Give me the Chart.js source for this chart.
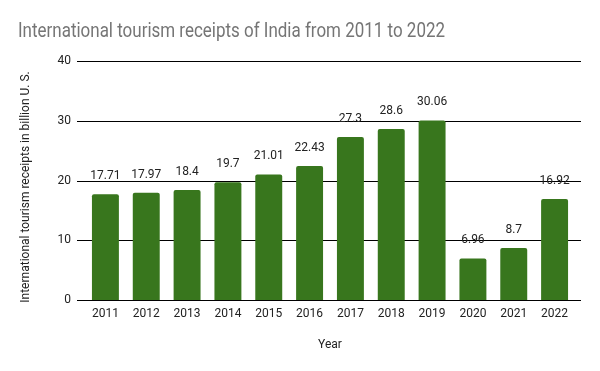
<!DOCTYPE html>
<html>
<head>
<meta charset="utf-8">
<script src="https://cdn.jsdelivr.net/npm/chart.js@4.4.0/dist/chart.umd.min.js"></script>
<style>
  html, body { margin: 0; padding: 0; background: #fff; }
  #wrap { width: 600px; height: 371px; position: relative; }
</style>
</head>
<body>
<div id="wrap"><canvas id="c" width="600" height="371"></canvas></div>
<script>
const chartTitle = "International tourism receipts of India from 2011 to 2022";
const years = ["2011","2012","2013","2014","2015","2016","2017","2018","2019","2020","2021","2022"];
const receipts = [17.71, 17.97, 18.4, 19.7, 21.01, 22.43, 27.3, 28.6, 30.06, 6.96, 8.7, 16.92];
const yTicks = [0, 10, 20, 30, 40];
const xTitle = "Year";
const yTitle = "International tourism receipts in billion U. S.";

const textPlugin = {
  id: 'customText',
  afterDraw(chart) {
    const ctx = chart.ctx;
    ctx.save();
    ctx.font = '20px Roboto';
    ctx.fillStyle = '#757575';
    ctx.textAlign = 'left';
    ctx.textBaseline = 'alphabetic';
    ctx.fillText(chartTitle, 18, 37, 427);
    ctx.restore();

    ctx.save();
    ctx.translate(26, 187);
    ctx.rotate(-Math.PI / 2);
    ctx.font = '12px Roboto';
    ctx.fillStyle = '#222222';
    ctx.textAlign = 'center';
    ctx.textBaseline = 'middle';
    ctx.fillText(yTitle, 0, 0);
    ctx.restore();
  }
};

const gridPlugin = {
  id: 'extendedGrid',
  beforeDatasetsDraw(chart) {
    const ctx = chart.ctx;
    const y = chart.scales.y;
    const area = chart.chartArea;
    ctx.save();
    ctx.strokeStyle = '#000000';
    ctx.lineWidth = 1;
    yTicks.forEach(v => {
      const py = Math.round(y.getPixelForValue(v)) + 0.5;
      ctx.beginPath();
      ctx.moveTo(area.left - 8, py);
      ctx.lineTo(area.right + 6, py);
      ctx.stroke();
    });
    ctx.restore();
  }
};

const valueLabels = {
  id: 'valueLabels',
  afterDatasetsDraw(chart) {
    const ctx = chart.ctx;
    const meta = chart.getDatasetMeta(0);
    ctx.save();
    ctx.font = '12px Roboto';
    ctx.fillStyle = '#222222';
    ctx.textAlign = 'center';
    ctx.textBaseline = 'alphabetic';
    meta.data.forEach((bar, i) => {
      ctx.fillText(String(receipts[i]), bar.x, bar.y - 15);
    });
    ctx.restore();
  }
};

new Chart(document.getElementById('c'), {
  type: 'bar',
  data: {
    labels: years,
    datasets: [{
      data: receipts,
      backgroundColor: '#38761d',
      borderRadius: 2,
      borderSkipped: 'bottom',
      categoryPercentage: 0.66,
      barPercentage: 1.0
    }]
  },
  options: {
    responsive: false,
    animation: false,
    devicePixelRatio: 1,
    layout: { padding: { top: 61, right: 25, left: 0, bottom: 0 } },
    plugins: {
      legend: { display: false },
      title: { display: false },
      tooltip: { enabled: false }
    },
    scales: {
      x: {
        grid: { display: false, drawTicks: false },
        border: { display: false },
        ticks: { color: '#222222', font: { family: 'Roboto', size: 12 }, padding: 7, maxRotation: 0 },
        title: { display: true, text: xTitle, color: '#222222', font: { family: 'Roboto', size: 12 }, padding: { top: 0, bottom: 19 } },
        afterFit(scale) { scale.height = 71; }
      },
      y: {
        min: 0, max: 40,
        afterBuildTicks(scale) { scale.ticks = yTicks.map(v => ({ value: v })); },
        grid: { display: false, drawTicks: false },
        border: { display: false },
        ticks: { color: '#222222', font: { family: 'Roboto', size: 12 }, padding: 14 },
        title: { display: false },
        afterFit(scale) { scale.width = 85; }
      }
    }
  },
  plugins: [gridPlugin, valueLabels, textPlugin]
});
</script>
</body>
</html>
